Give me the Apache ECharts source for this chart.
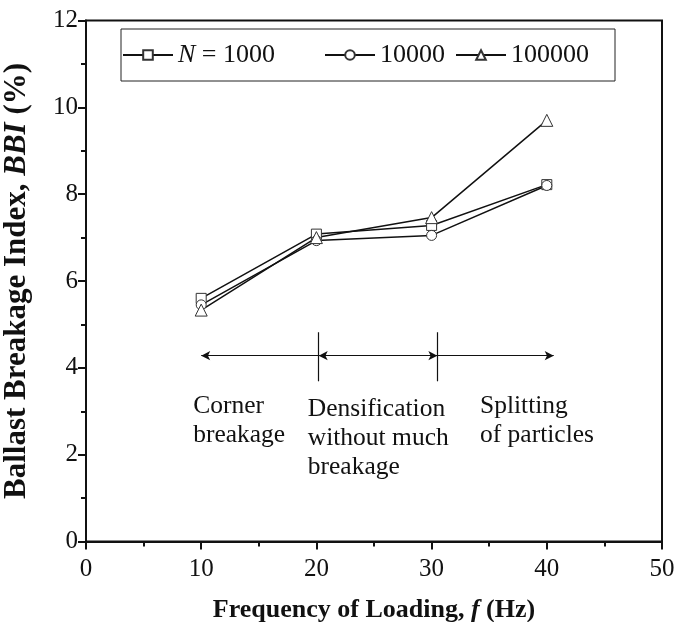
<!DOCTYPE html>
<html>
<head>
<meta charset="utf-8">
<script src="https://cdn.jsdelivr.net/npm/echarts@6/dist/echarts.min.js"></script>
<style>html,body{margin:0;padding:0;background:#fff;}#c{width:674px;height:622px;}</style>
</head>
<body>
<div id="c"></div>
<script>
// ---- data ----
var frequencies = [10, 20, 30, 40];
var bbiN1000 = [5.60, 7.08, 7.28, 8.22];
var bbiN10000 = [5.45, 6.93, 7.05, 8.20];
var bbiN100000 = [5.33, 7.00, 7.46, 9.70];
var seriesNames = ['N = 1000', '10000', '100000'];
var xTicks = [0, 10, 20, 30, 40, 50];
var yTicks = [0, 2, 4, 6, 8, 10, 12];
// annotation: region boundaries (Hz) and arrow level (BBI)
var arrowLevel = 4.28;
var regionStart = 10, boundary1 = 20.2, boundary2 = 30.5, regionEnd = 40.6;
var dividerTop = 4.82, dividerBottom = 3.69;
var annotations = [
  {x: 9.3, y: 3.44, text: 'Corner\nbreakage'},
  {x: 19.25, y: 3.38, text: 'Densification\nwithout much\nbreakage'},
  {x: 34.2, y: 3.44, text: 'Splitting\nof particles'}
];

var FONT = '"Liberation Serif", "Times New Roman", serif';
var chart = echarts.init(document.getElementById('c'), null, {renderer: 'canvas'});

function pairs(ys) { return frequencies.map(function (x, i) { return [x, ys[i]]; }); }

var lineStyle = {color: '#111', width: 1.5};
var itemStyle = {color: '#fff', borderColor: '#333', borderWidth: 1};

var option = {
  animation: false,
  backgroundColor: '#fff',
  grid: {left: 86, right: 12, top: 20.5, bottom: 80.5, containLabel: false, outerBoundsMode: 'none',
    show: true, borderColor: '#111', borderWidth: 2, backgroundColor: 'transparent'},
  legend: {
    data: seriesNames,
    left: 121, top: 29,
    orient: 'horizontal',
    itemWidth: 50, itemHeight: 12, itemGap: 10,
    padding: [13, 26, 13, 1],
    borderColor: '#222', borderWidth: 1,
    formatter: function (name) {
      return name.indexOf('N') === 0 ? '{i|N}{t| = 1000\u2003\u2002}' : '{t|' + name + '}';
    },
    textStyle: {
      fontFamily: FONT, fontSize: 26, color: '#111',
      rich: {
        i: {fontFamily: FONT, fontSize: 26, fontStyle: 'italic', color: '#111'},
        t: {fontFamily: FONT, fontSize: 26, color: '#111'}
      }
    }
  },
  xAxis: {
    type: 'value', min: 0, max: 50, interval: 10,
    axisLine: {show: true, onZero: false, lineStyle: {color: '#111', width: 2}},
    axisTick: {show: true, inside: false, length: 8, lineStyle: {color: '#111', width: 2}},
    minorTick: {show: true, splitNumber: 2, length: 5, lineStyle: {color: '#111', width: 2}},
    splitLine: {show: false},
    axisLabel: {fontFamily: FONT, fontSize: 25, color: '#111', margin: 15,
      formatter: function (v) { return xTicks.indexOf(v) >= 0 ? String(v) : ''; }},
    name: '{b|Frequency of Loading, }{bi|f}{b| (Hz)}',
    nameLocation: 'middle', nameGap: 56,
    nameTextStyle: {
      rich: {
        b: {fontFamily: FONT, fontSize: 26, fontWeight: 'bold', color: '#111'},
        bi: {fontFamily: FONT, fontSize: 26, fontWeight: 'bold', fontStyle: 'italic', color: '#111'}
      }
    }
  },
  yAxis: {
    type: 'value', min: 0, max: 12, interval: 2,
    axisLine: {show: true, onZero: false, lineStyle: {color: '#111', width: 2}},
    axisTick: {show: true, inside: false, length: 8, lineStyle: {color: '#111', width: 2}},
    minorTick: {show: true, splitNumber: 2, length: 5, lineStyle: {color: '#111', width: 2}},
    splitLine: {show: false},
    axisLabel: {fontFamily: FONT, fontSize: 25, color: '#111', margin: 8,
      formatter: function (v) { return yTicks.indexOf(v) >= 0 ? String(v) : ''; }},
    name: '{b|Ballast Breakage Index, }{bi|BBI}{b| (%)}',
    nameLocation: 'middle', nameGap: 54, nameRotate: 90,
    nameTextStyle: {
      rich: {
        b: {fontFamily: FONT, fontSize: 31, fontWeight: 'bold', color: '#111'},
        bi: {fontFamily: FONT, fontSize: 31, fontWeight: 'bold', fontStyle: 'italic', color: '#111'}
      }
    }
  },
  series: [
    {name: seriesNames[0], type: 'line', data: pairs(bbiN1000), symbol: 'rect', symbolSize: 10,
     lineStyle: lineStyle, itemStyle: itemStyle, z: 3},
    {name: seriesNames[1], type: 'line', data: pairs(bbiN10000), symbol: 'circle', symbolSize: 10,
     lineStyle: lineStyle, itemStyle: itemStyle, z: 3},
    {name: seriesNames[2], type: 'line', data: pairs(bbiN100000), symbol: 'triangle', symbolSize: 12,
     lineStyle: lineStyle, itemStyle: itemStyle, z: 3},
    {name: 'annot', type: 'line', data: [], silent: true,
     markLine: {
       silent: true, animation: false,
       label: {show: false},
       lineStyle: {color: '#111', width: 1.2, type: 'solid'},
       symbolSize: [7, 9],
       data: [
         [{coord: [regionStart, arrowLevel], symbol: 'arrow'}, {coord: [boundary1, arrowLevel], symbol: 'none'}],
         [{coord: [boundary1, arrowLevel], symbol: 'arrow'}, {coord: [boundary2, arrowLevel], symbol: 'arrow'}],
         [{coord: [boundary2, arrowLevel], symbol: 'none'}, {coord: [regionEnd, arrowLevel], symbol: 'arrow'}],
         [{coord: [boundary1, dividerTop], symbol: 'none'}, {coord: [boundary1, dividerBottom], symbol: 'none'}],
         [{coord: [boundary2, dividerTop], symbol: 'none'}, {coord: [boundary2, dividerBottom], symbol: 'none'}]
       ]
     }}
  ]
};
chart.setOption(option);

var graphics = annotations.map(function (a) {
  var p = chart.convertToPixel({gridIndex: 0}, [a.x, a.y]);
  return {type: 'text', left: p[0], top: p[1], silent: true,
    style: {text: a.text, fontFamily: FONT, fontSize: 25.5, lineHeight: 29, fill: '#111'}};
});
chart.setOption({graphic: graphics});
</script>
</body>
</html>
